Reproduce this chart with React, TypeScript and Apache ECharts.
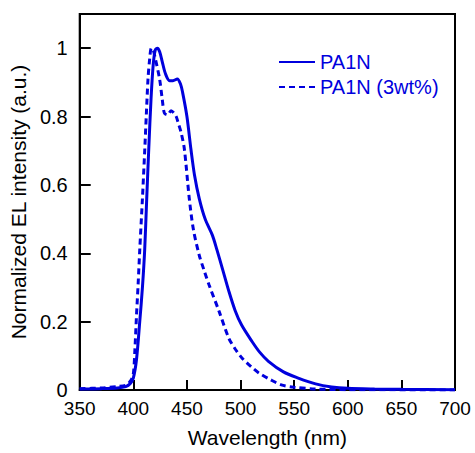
import React, { useEffect, useRef } from "react";
import * as echarts from "echarts";

const xTicks = [350, 400, 450, 500, 550, 600, 650, 700];
const yTicks = [0, 0.2, 0.4, 0.6, 0.8, 1];

const neatX = [350, 370, 385, 393, 397, 400, 403, 406, 408.5, 410.6, 412.5, 414.4, 416.5, 418.5, 420.5, 422.5, 424.5, 427, 430, 433.8, 437, 441, 444, 446, 450, 453.7, 457, 461.5, 467, 473.7, 478, 483, 489, 495, 501, 510.7, 518, 526, 540, 553.8, 570, 585, 600, 625, 650, 700];
const neatY = [0.003, 0.004, 0.006, 0.01, 0.018, 0.035, 0.09, 0.2, 0.3, 0.41, 0.56, 0.705, 0.85, 0.95, 0.995, 1.0, 0.99, 0.96, 0.925, 0.905, 0.905, 0.91, 0.895, 0.87, 0.8, 0.705, 0.63, 0.56, 0.5, 0.453, 0.41, 0.356, 0.29, 0.232, 0.19, 0.142, 0.11, 0.084, 0.053, 0.035, 0.018, 0.009, 0.005, 0.003, 0.002, 0.001];

const dopedX = [350, 370, 385, 393, 397, 399.9, 401.5, 403, 404.5, 406, 408.5, 410.7, 412.2, 413.7, 415.3, 416.8, 418.5, 420.5, 424.5, 427, 429, 432, 435.2, 438, 440, 442, 444.5, 447.6, 452.2, 456, 461.5, 466, 470.7, 480, 489, 495, 501.5, 510, 517, 528, 538, 550, 570, 600, 700];
const dopedY = [0.004, 0.006, 0.01, 0.014, 0.025, 0.045, 0.12, 0.22, 0.31, 0.41, 0.56, 0.705, 0.81, 0.91, 0.97, 1.0, 0.995, 0.97, 0.91, 0.85, 0.81, 0.805, 0.817, 0.81, 0.8, 0.78, 0.754, 0.705, 0.56, 0.47, 0.394, 0.35, 0.307, 0.23, 0.152, 0.12, 0.093, 0.068, 0.05, 0.03, 0.015, 0.008, 0.003, 0.001, 0];

const seriesNames = ["PA1N", "PA1N (3wt%)"];

const BLUE = "#0000dd";
const FONT = "Liberation Sans";

export default function App() {
  const ref = useRef<HTMLDivElement>(null);
  useEffect(() => {
    if (!ref.current) return;
    const chart = echarts.init(ref.current, undefined, { renderer: "svg" });
    const pair = (xs: number[], ys: number[]) => xs.map((x, i) => [x, ys[i]]);
    chart.setOption({
      animation: false,
      backgroundColor: "#ffffff",
      textStyle: { fontFamily: FONT },
      grid: { left: 76, right: 20, top: 14, bottom: 61, show: true, borderColor: "#000", borderWidth: 2, backgroundColor: "transparent" },
      legend: {
        orient: "vertical",
        left: 273,
        top: 47,
        itemWidth: 36,
        itemHeight: 14,
        itemGap: 5,
        data: seriesNames,
        itemStyle: { opacity: 0 },
        textStyle: { color: BLUE, fontSize: 20, fontFamily: FONT, lineHeight: 18 },
      },
      xAxis: {
        type: "value",
        min: 350,
        max: 700,
        interval: 50,
        name: "Wavelength (nm)",
        nameLocation: "middle",
        nameGap: 37,
        nameTextStyle: { fontSize: 21, color: "#000", fontFamily: FONT },
        axisLine: { show: true, lineStyle: { color: "#000", width: 2 } },
        axisTick: { show: true, inside: true, length: 10, lineStyle: { color: "#000", width: 2 } },
        axisLabel: { fontSize: 19, color: "#000", margin: 9, fontFamily: FONT, formatter: (v: number) => (xTicks.includes(v) ? String(v) : "") },
        splitLine: { show: false },
      },
      yAxis: {
        type: "value",
        min: 0,
        max: 1.1,
        interval: 0.2,
        name: "Normalized EL intensity (a.u.)",
        nameLocation: "middle",
        nameGap: 45,
        nameTextStyle: { fontSize: 21, color: "#000", fontFamily: FONT },
        axisLine: { show: true, lineStyle: { color: "#000", width: 2 } },
        axisTick: { show: true, inside: true, length: 11, lineStyle: { color: "#000", width: 2 } },
        axisLabel: {
          fontSize: 20,
          color: "#000",
          margin: 12,
          fontFamily: FONT,
          showMaxLabel: false,
          formatter: (v: number) => {
            const t = yTicks.find((y) => Math.abs(y - v) < 1e-6);
            return t === undefined ? "" : String(t);
          },
        },
        splitLine: { show: false },
      },
      series: [
        {
          name: seriesNames[0],
          type: "line",
          data: pair(neatX, neatY),
          smooth: 0.3,
          symbol: "none",
          lineStyle: { color: BLUE, width: 3, type: "solid" },
          itemStyle: { color: BLUE },
        },
        {
          name: seriesNames[1],
          type: "line",
          data: pair(dopedX, dopedY),
          smooth: 0.3,
          symbol: "none",
          lineStyle: { color: BLUE, width: 3, type: [6, 4] },
          itemStyle: { color: BLUE },
        },
      ],
    });
    return () => chart.dispose();
  }, []);
  return <div ref={ref} style={{ position: "fixed", left: 0, top: 0, width: 475, height: 453 }} />;
}
